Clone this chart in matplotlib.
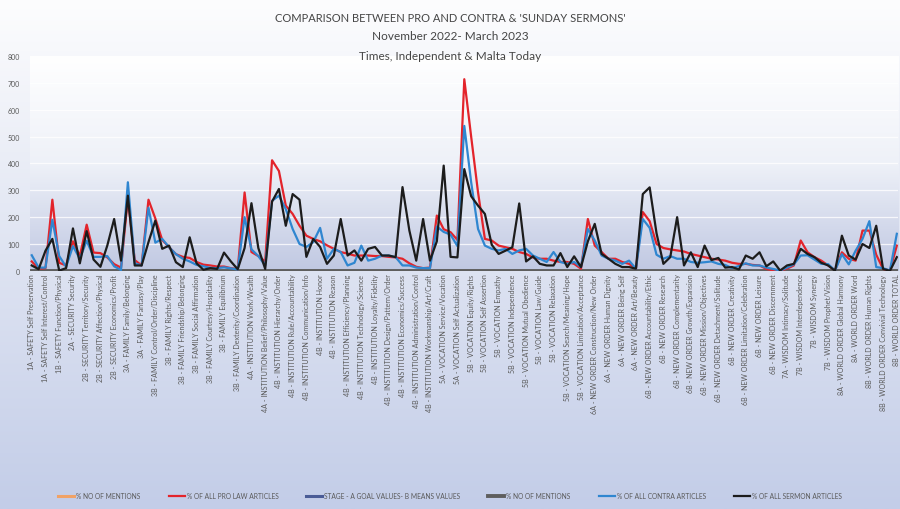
import numpy as np
import matplotlib.pyplot as plt
from matplotlib.colors import LinearSegmentedColormap

plt.rcParams['font.family'] = ['Lato', 'DejaVu Sans']

# category labels (Excel shows every second category)
tick_labels = [
    "1A - SAFETY Self Preservation", "1A - SAFETY Self Interest/Control",
    "1B - SAFETY Function/Physical", "2A - SECURITY Security",
    "2B - SECURITY Territory/Security", "2B - SECURITY Affection/Physical",
    "2B - SECURITY Economics/Profit", "3A - FAMILY Family/Belonging",
    "3A - FAMILY Fantasy/Play", "3B - FAMILY Control/Order/Discipline",
    "3B - FAMILY Rights/Respect", "3B - FAMILY Friendship/Belonging",
    "3B - FAMILY Social Affirmation", "3B - FAMILY Courtesy/Hospitality",
    "3B - FAMILY Equilibrium", "3B - FAMILY Dexterity/Coordination",
    "4A - INSTITUTION Work/Wealth", "4A - INSTITUTION Belief/Philosophy/Value",
    "4B - INSTITUTION Hierarchy/Order", "4B - INSTITUTION Rule/Accountability",
    "4B - INSTITUTION Communication/Info", "4B - INSTITUTION Honor",
    "4B - INSTITUTION Reason", "4B - INSTITUTION Efficiency/Planning",
    "4B - INSTITUTION Technology/Science", "4B - INSTITUTION Loyalty/Fidelity",
    "4B - INSTITUTION Design/Pattern/Order", "4B - INSTITUTION Economics/Success",
    "4B - INSTITUTION Administration/Control", "4B - INSTITUTION Workmanship/Art/Craft",
    "5A - VOCATION Service/Vocation", "5A - VOCATION Self Actualization",
    "5B - VOCATION Equity/Rights", "5B - VOCATION Self Assertion",
    "5B - VOCATION Empathy", "5B - VOCATION Independence",
    "5B - VOCATION Mutual Obedience", "5B - VOCATION Law/Guide",
    "5B - VOCATION Relaxation", "5B - VOCATION Search/Meaning/Hope",
    "5B - VOCATION Limitation/Acceptance", "6A - NEW ORDER Construction/New Order",
    "6A - NEW ORDER Human Dignity", "6A - NEW ORDER Being Self",
    "6A - NEW ORDER Art/Beauty", "6B - NEW ORDER Accountability/Ethic",
    "6B - NEW ORDER Research", "6B - NEW ORDER Complementarity",
    "6B - NEW ORDER Growth/Expansion", "6B - NEW ORDER Mission/Objectives",
    "6B - NEW ORDER Detachment/Solitude", "6B - NEW ORDER Creativity",
    "6B - NEW ORDER Limitation/Celebration", "6B - NEW ORDER Leisure",
    "6B - NEW ORDER Discernment", "7A - WISDOM Intimacy/Solitude",
    "7B - WISDOM Interdependence", "7B - WISDOM Synergy",
    "7B - WISDOM Prophet/Vision", "8A - WORLD ORDER Global Harmony",
    "8A - WORLD ORDER Word", "8B - WORLD ORDER Human Rights",
    "8B - WORLD ORDER Convivial Technology", "8B - WORLD ORDER TOTAL",
]

pro_law = [
    35, 8, 10, 265, 30, 20, 110, 55, 172, 68,
    66, 50, 25, 12, 270, 40, 20, 265, 195, 115,
    88, 62, 52, 48, 33, 23, 20, 16, 16, 10,
    6, 292, 70, 55, 35, 412, 372, 243, 212, 168,
    131, 119, 110, 95, 82, 70, 64, 57, 57, 57,
    55, 55, 52, 50, 45, 28, 15, 10, 12, 206,
    155, 144, 115, 714, 500, 293, 119, 113, 94, 88,
    82, 70, 63, 50, 45, 45, 38, 33, 33, 26,
    8, 193, 94, 70, 45, 45, 33, 26, 8, 219,
    185, 100, 85, 80, 76, 72, 63, 57, 51, 45,
    42, 38, 30, 26, 26, 22, 20, 7, 2, 1,
    8, 20, 113, 69, 51, 38, 20, 2, 69, 45,
    38, 150, 150, 60, 7, 1, 94,
]

contra = [
    58, 12, 12, 190, 55, 15, 92, 45, 112, 52,
    52, 55, 17, 3, 330, 28, 20, 235, 105, 119,
    88, 62, 45, 35, 22, 17, 11, 10, 13, 9,
    5, 200, 80, 55, 20, 261, 280, 230, 156, 100,
    89, 107, 160, 45, 82, 70, 20, 30, 94, 38,
    45, 57, 57, 51, 20, 20, 12, 10, 10, 165,
    145, 135, 92, 540, 330, 156, 94, 82, 76, 82,
    63, 76, 82, 57, 45, 33, 70, 33, 26, 33,
    14, 156, 113, 57, 45, 38, 26, 38, 8, 193,
    160, 60, 45, 55, 45, 45, 33, 30, 32, 35,
    26, 22, 10, 18, 28, 20, 20, 12, 7, 1,
    12, 24, 57, 58, 42, 26, 25, 1, 62, 24,
    75, 119, 185, 14, 10, 1, 138,
]

sermon = [
    20, 6, 75, 119, 1, 10, 158, 28, 148, 42,
    15, 94, 193, 38, 280, 20, 20, 107, 187, 82,
    94, 32, 14, 125, 28, 4, 10, 7, 68, 35,
    6, 85, 252, 85, 7, 258, 305, 168, 286, 265,
    52, 119, 89, 26, 57, 193, 57, 76, 38, 82,
    89, 57, 57, 51, 312, 150, 38, 193, 38, 110,
    392, 52, 50, 379, 278, 243, 212, 97, 63, 75,
    88, 251, 35, 54, 26, 20, 20, 66, 14, 54,
    14, 110, 175, 63, 45, 26, 14, 14, 8, 286,
    311, 140, 26, 51, 200, 20, 69, 14, 94, 40,
    48, 12, 14, 5, 57, 45, 69, 17, 35, 1,
    20, 26, 82, 63, 51, 30, 20, 0, 131, 57,
    42, 100, 85, 168, 7, 0, 51,
]

# the other three series sit flat on the axis
mentions_pro = [0] * len(pro_law)
stage_values = [0] * len(pro_law)
mentions_contra = [0] * len(pro_law)

x = np.arange(len(pro_law))

fig = plt.figure(figsize=(9, 5.1), dpi=100)

# background gradient of the whole chart
bg = fig.add_axes([0, 0, 1, 1], zorder=-10)
bg_cmap = LinearSegmentedColormap.from_list('bg', ['#fdfdfe', '#dfe4f2', '#c3cde8'])
bg.imshow(np.linspace(0, 1, 256).reshape(-1, 1), cmap=bg_cmap, aspect='auto', extent=[0, 1, 0, 1])
bg.axis('off')

ax = fig.add_axes([0.033, 0.467, 0.965, 0.421])
ax.patch.set_visible(False)
xmin, xmax = -0.3, 126.2
plot_cmap = LinearSegmentedColormap.from_list('pa', ['#ffffff', '#eef1f8', '#c0c8e2'])
ax.imshow(np.linspace(0, 1, 256).reshape(-1, 1), cmap=plot_cmap, aspect='auto',
          extent=[xmin, xmax, 0, 800], zorder=0)

for yv in range(100, 801, 100):
    ax.axhline(yv, color='white', lw=0.9, alpha=0.8, zorder=1)

ax.plot(x, mentions_pro, color='#f0a266', lw=2.2, label='% NO OF MENTIONS', zorder=2)
ax.plot(x, pro_law, color='#e3242b', lw=1.6, label='% OF ALL PRO LAW ARTICLES', zorder=3)
ax.plot(x, stage_values, color='#4a5c96', lw=2.2, label='STAGE - A GOAL VALUES- B MEANS VALUES', zorder=2)
ax.plot(x, mentions_contra, color='#5e5e5e', lw=2.8, label='% NO OF MENTIONS', zorder=2)
ax.plot(x, contra, color='#2f86d0', lw=1.6, label='% OF ALL CONTRA ARTICLES', zorder=4)
ax.plot(x, sermon, color='#1c1c1c', lw=1.6, label='% OF ALL SERMON ARTICLES', zorder=5)

ax.set_xlim(xmin, xmax)
ax.set_ylim(0, 800)
ax.set_yticks(range(0, 801, 100))
ax.set_xticks(x[::2])
ax.set_xticklabels(tick_labels, rotation=90, fontsize=5.1, color='#5a5a5a')
ax.tick_params(axis='y', length=0, labelsize=5, labelcolor='#5a5a5a', pad=7)
ax.tick_params(axis='x', length=0, pad=2)
for s in ax.spines.values():
    s.set_visible(False)

fig.text(0.5, 1 - 18 / 510, "COMPARISON BETWEEN PRO AND CONTRA & 'SUNDAY SERMONS'",
         ha='center', va='center', fontsize=8, color='#454545')
fig.text(0.5, 1 - 37 / 510, "November 2022- March 2023",
         ha='center', va='center', fontsize=8.5, color='#454545')
fig.text(0.5, 1 - 56 / 510, "Times, Independent & Malta Today",
         ha='center', va='center', fontsize=8.5, color='#454545')

leg = fig.legend(loc='center', bbox_to_anchor=(0.5, 1 - 497 / 510), ncol=6, frameon=False,
                 fontsize=4.8, handlelength=2.4, columnspacing=4.2, handletextpad=0.3)
for t in leg.get_texts():
    t.set_color('#5a5a5a')

fig.savefig('out.png', dpi=100)
